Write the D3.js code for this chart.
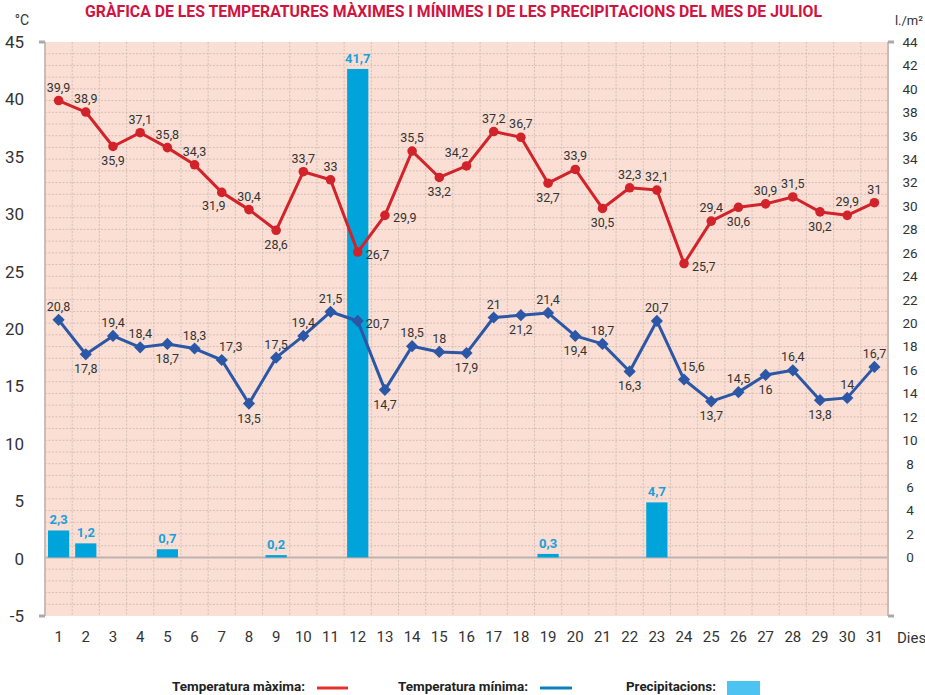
<!DOCTYPE html>
<html>
<head>
<meta charset="utf-8">
<script src="https://cdn.jsdelivr.net/npm/d3@7"></script>
<style>
  body { margin: 0; background: #fff; }
  svg { display: block; font-family: Roboto, "Noto Sans", sans-serif; }
</style>
</head>
<body>
<svg id="chart"></svg>
<script>
// Days of July
const days = d3.range(1, 32);

// Maximum temperature (°C)
const tempMax = [39.9, 38.9, 35.9, 37.1, 35.8, 34.3, 31.9, 30.4, 28.6, 33.7, 33, 26.7, 29.9, 35.5, 33.2, 34.2,
  37.2, 36.7, 32.7, 33.9, 30.5, 32.3, 32.1, 25.7, 29.4, 30.6, 30.9, 31.5, 30.2, 29.9, 31];

// Minimum temperature (°C)
const tempMin = [20.8, 17.8, 19.4, 18.4, 18.7, 18.3, 17.3, 13.5, 17.5, 19.4, 21.5, 20.7, 14.7, 18.5, 18, 17.9,
  21, 21.2, 21.4, 19.4, 18.7, 16.3, 20.7, 15.6, 13.7, 14.5, 16, 16.4, 13.8, 14, 16.7];

// Precipitation (l./m2)
const rain = [2.3, 1.2, 0, 0, 0.7, 0, 0, 0, 0.2, 0, 0, 41.7, 0, 0, 0, 0,
  0, 0, 0.3, 0, 0, 0, 4.7, 0, 0, 0, 0, 0, 0, 0, 0];

// Which side of the marker each value label sits on
const maxLabelSide = ["t", "t", "b", "t", "t", "t", "bl", "t", "b", "t", "t", "r", "r", "t", "b", "tl",
  "t", "t", "b", "t", "b", "t", "t", "r", "t", "b", "t", "t", "b", "t", "t"];
const minLabelSide = ["t", "b", "t", "t", "b", "t", "tr", "b", "t", "t", "t", "r", "b", "t", "t", "b",
  "t", "b", "t", "b", "t", "b", "t", "tr", "b", "t", "b", "t", "b", "t", "t"];

const leftTicks = d3.range(-5, 46, 5);
const rightTicks = d3.range(0, 45, 2);

const svgWidth = 925;
const svgHeight = 695;
const plot = { left: 45, right: 888, top: 42, bottom: 616 };

const colMax = "#d2232a";
const colMin = "#2b57a6";
const colRain = "#00a3da";
const labelCol = "#333";

const svg = d3.select("#chart").attr("width", svgWidth).attr("height", svgHeight);

const x = d3.scaleBand()
  .domain(days)
  .range([plot.left, plot.right])
  .paddingInner(0.22)
  .paddingOuter(0.11);
const cx = (d) => x(d) + x.bandwidth() / 2;

const yL = d3.scaleLinear().domain([-5, 45]).range([plot.bottom, plot.top]);
const yR = d3.scaleLinear().domain([-5, 44]).range([plot.bottom, plot.top]);

// background
svg.append("rect")
  .attr("x", plot.left).attr("y", plot.top)
  .attr("width", plot.right - plot.left).attr("height", plot.bottom - plot.top)
  .attr("fill", "#fbdfd5");

// grid
const grid = svg.append("g");
grid.selectAll(".hg").data(d3.range(-4, 44))
  .join("line")
  .attr("x1", plot.left).attr("x2", plot.right)
  .attr("y1", (d) => yR(d)).attr("y2", (d) => yR(d))
  .attr("stroke", "#d4bfb8").attr("stroke-width", 1)
  .attr("stroke-dasharray", "2,1.5");
const step = x.step();
grid.selectAll(".vg").data(d3.range(1, 31))
  .join("line")
  .attr("x1", (d) => plot.left + d * step).attr("x2", (d) => plot.left + d * step)
  .attr("y1", plot.top).attr("y2", plot.bottom)
  .attr("stroke", "#d4bfb8").attr("stroke-width", 1)
  .attr("stroke-dasharray", "2,1.5");

// zero line
svg.append("line")
  .attr("x1", plot.left).attr("x2", plot.right)
  .attr("y1", yR(0)).attr("y2", yR(0))
  .attr("stroke", "#bdb3b0").attr("stroke-width", 2);

// side borders + end ticks
[plot.left, plot.right].forEach((px, i) => {
  svg.append("line")
    .attr("x1", px).attr("x2", px).attr("y1", plot.top).attr("y2", plot.bottom)
    .attr("stroke", "#c9bdb9").attr("stroke-width", 2);
  const dir = i === 0 ? -6 : 6;
  [plot.top, plot.bottom].forEach((py) => {
    svg.append("line")
      .attr("x1", px).attr("x2", px + dir).attr("y1", py).attr("y2", py)
      .attr("stroke", "#aaa").attr("stroke-width", 3);
  });
});

// left axis
const gl = svg.append("g")
  .attr("transform", `translate(${plot.left},0)`)
  .call(d3.axisLeft(yL).tickValues(leftTicks).tickSize(0).tickPadding(21).tickFormat((d) => String(d)));
gl.select(".domain").remove();
gl.selectAll("text").attr("font-size", 17).attr("fill", labelCol).attr("font-family", "Roboto");

// right axis
const gr = svg.append("g")
  .attr("transform", `translate(${plot.right},0)`)
  .call(d3.axisRight(yR).tickValues(rightTicks).tickSize(0));
gr.select(".domain").remove();
gr.selectAll("text").attr("x", 22).attr("text-anchor", "middle")
  .attr("font-size", 13.5).attr("fill", labelCol).attr("font-family", "Roboto");

// bottom axis
const gb = svg.append("g")
  .attr("transform", `translate(0,${plot.bottom})`)
  .call(d3.axisBottom(x).tickSize(0).tickPadding(15));
gb.select(".domain").remove();
gb.selectAll("text").attr("font-size", 15).attr("fill", labelCol).attr("font-family", "Roboto");

svg.append("text").attr("x", 897).attr("y", 643)
  .attr("font-size", 15).attr("fill", labelCol).text("Dies");

// units
svg.append("text").attr("x", 22).attr("y", 25).attr("text-anchor", "middle")
  .attr("font-size", 14).attr("fill", labelCol).text("°C");
svg.append("text").attr("x", 923).attr("y", 25).attr("text-anchor", "end")
  .attr("font-size", 13).attr("fill", labelCol).text("l./m²");

// title
svg.append("text")
  .attr("x", 85).attr("y", 17)
  .attr("textLength", 737).attr("lengthAdjust", "spacingAndGlyphs")
  .attr("font-size", 16).attr("font-weight", "bold").attr("fill", "#d0143f")
  .text("GRÀFICA DE LES TEMPERATURES MÀXIMES I MÍNIMES I DE LES PRECIPITACIONS DEL MES DE JULIOL");

// precipitation bars
const rainData = days.map((d, i) => ({ day: d, v: rain[i] })).filter((d) => d.v > 0);
svg.append("g").selectAll("rect").data(rainData)
  .join("rect")
  .attr("x", (d) => x(d.day))
  .attr("width", x.bandwidth())
  .attr("y", (d) => yR(d.v))
  .attr("height", (d) => yR(0) - yR(d.v))
  .attr("fill", colRain);
svg.append("g").selectAll("text").data(rainData)
  .join("text")
  .attr("x", (d) => cx(d.day))
  .attr("y", (d) => yR(d.v) - 6)
  .attr("text-anchor", "middle")
  .attr("font-size", 13).attr("font-weight", "bold").attr("fill", "#1ba0da")
  .text((d) => String(d.v).replace(".", ","));

// label placement offsets
const offsets = {
  t: { dx: 0, dy: -9, anchor: "middle" },
  b: { dx: 0, dy: 19, anchor: "middle" },
  r: { dx: 8, dy: 7, anchor: "start" },
  tl: { dx: -10, dy: -9, anchor: "middle" },
  tr: { dx: 9, dy: -9, anchor: "middle" },
  bl: { dx: -8, dy: 18, anchor: "middle" }
};

const drawSeries = (values, sides, color, shape) => {
  const data = days.map((d, i) => ({ day: d, v: values[i], side: sides[i] }));
  const line = d3.line().x((d) => cx(d.day)).y((d) => yL(d.v));
  svg.append("path").datum(data)
    .attr("d", line)
    .attr("fill", "none").attr("stroke", color).attr("stroke-width", 3)
    .attr("stroke-linejoin", "round");
  svg.append("g").selectAll("path").data(data)
    .join("path")
    .attr("transform", (d) => `translate(${cx(d.day)},${yL(d.v)})`)
    .attr("d", d3.symbol().type(shape === "circle" ? d3.symbolCircle : d3.symbolDiamond2)
      .size(shape === "circle" ? 72 : 95))
    .attr("fill", color);
  svg.append("g").selectAll("text").data(data)
    .join("text")
    .attr("x", (d) => cx(d.day) + offsets[d.side].dx)
    .attr("y", (d) => yL(d.v) + offsets[d.side].dy)
    .attr("text-anchor", (d) => offsets[d.side].anchor)
    .attr("font-size", 12.5).attr("fill", labelCol)
    .text((d) => String(d.v).replace(".", ","));
};

drawSeries(tempMax, maxLabelSide, colMax, "circle");
drawSeries(tempMin, minLabelSide, colMin, "diamond");

// legend
const legend = svg.append("g").attr("font-size", 13.5).attr("font-weight", "bold").attr("fill", "#222");
legend.append("text").attr("x", 172).attr("y", 691)
  .attr("textLength", 133).attr("lengthAdjust", "spacingAndGlyphs").text("Temperatura màxima:");
legend.append("line").attr("x1", 317).attr("x2", 348).attr("y1", 688).attr("y2", 688)
  .attr("stroke", "#e8302a").attr("stroke-width", 3);
legend.append("text").attr("x", 398).attr("y", 691)
  .attr("textLength", 130).attr("lengthAdjust", "spacingAndGlyphs").text("Temperatura mínima:");
legend.append("line").attr("x1", 540).attr("x2", 572).attr("y1", 688).attr("y2", 688)
  .attr("stroke", "#0a82b9").attr("stroke-width", 3);
legend.append("text").attr("x", 626).attr("y", 691)
  .attr("textLength", 90).attr("lengthAdjust", "spacingAndGlyphs").text("Precipitacions:");
legend.append("rect").attr("x", 727).attr("y", 681).attr("width", 33).attr("height", 14)
  .attr("fill", "#4cc3f0");
</script>
</body>
</html>
